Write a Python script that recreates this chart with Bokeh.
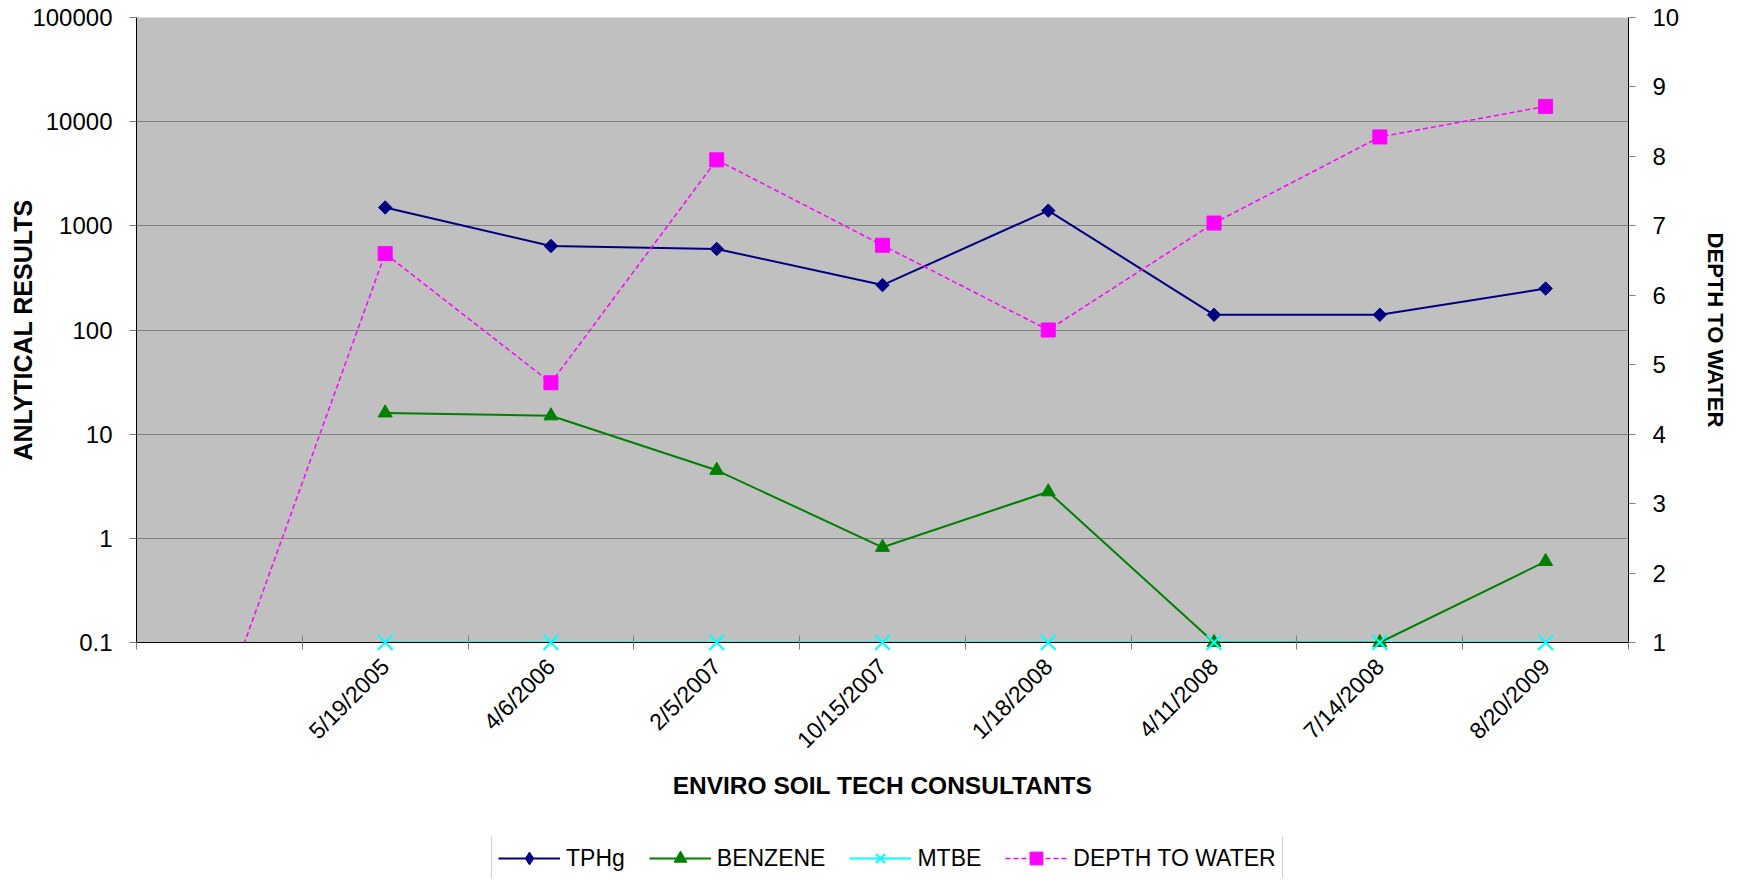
import math
import numpy as np
from bokeh.plotting import figure
from bokeh.layouts import column
from bokeh.models import (Range1d, LinearAxis, LinearScale, FixedTicker, CustomJSTickFormatter,
                          Legend, LegendItem)
from bokeh.embed import file_html
from bokeh.resources import INLINE

# ---- data ----
dates = ["", "5/19/2005", "4/6/2006", "2/5/2007", "10/15/2007", "1/18/2008",
         "4/11/2008", "7/14/2008", "8/20/2009"]
tphg = [np.nan, 1500, 640, 600, 270, 1400, 140, 140, 250]
benzene = [np.nan, 16, 15, 4.5, 0.82, 2.8, 0.1, 0.1, 0.6]
mtbe = [np.nan, 0.1, 0.1, 0.1, 0.1, 0.1, 0.1, 0.1, 0.1]
depth = [0, 6.6, 4.74, 7.95, 6.72, 5.5, 7.04, 8.28, 8.72]
left_ticks = [0.1, 1, 10, 100, 1000, 10000, 100000]
right_ticks = [1, 2, 3, 4, 5, 6, 7, 8, 9, 10]
series_names = ["TPHg", "BENZENE", "MTBE", "DEPTH TO WATER"]

x = [i + 0.5 for i in range(len(dates))]
bounds = [float(i) for i in range(len(dates) + 1)]

FONT = "Liberation Sans"
W, H1, H2 = 1736, 836, 42

p = figure(width=W, height=H1,
           x_range=Range1d(0, len(dates)), y_range=Range1d(left_ticks[0], left_ticks[-1]),
           y_axis_type="log", output_backend="svg", toolbar_location=None,
           min_border_left=136, min_border_right=W - 1628, min_border_top=17,
           min_border_bottom=H1 - 642,
           background_fill_color="#C0C0C0", border_fill_color="white", outline_line_color=None)

# grid
p.xgrid.visible = False
p.ygrid.grid_line_color = "#808080"
p.ygrid.grid_line_width = 1

# left axis
ya = p.left[0]
ya.ticker = FixedTicker(ticks=left_ticks)
ya.formatter = CustomJSTickFormatter(code="return tick.toString();")
ya.axis_label = "ANLYTICAL RESULTS"
ya.axis_label_text_font = FONT
ya.axis_label_text_font_style = "bold"
ya.axis_label_text_font_size = "25px"
ya.axis_label_text_color = "black"
ya.axis_label_standoff = -8
ya.major_label_text_font = FONT
ya.major_label_text_font_size = "24px"
ya.major_label_text_color = "black"
ya.major_label_standoff = 17
ya.major_tick_in = 0
ya.major_tick_out = 7
ya.major_tick_line_color = "#808080"
ya.minor_tick_line_color = None
ya.axis_line_color = "black"

# bottom axis
xa = p.below[0]
xa.ticker = FixedTicker(ticks=x, minor_ticks=bounds)
xa.major_label_overrides = {xi: d for xi, d in zip(x, dates)}
xa.major_label_orientation = math.pi / 4
xa.major_label_text_font = FONT
xa.major_label_text_font_size = "23px"
xa.major_label_text_color = "black"
xa.major_label_standoff = 13
xa.major_tick_in = 0
xa.major_tick_out = 0
xa.minor_tick_in = 7
xa.minor_tick_out = 7
xa.minor_tick_line_color = "#808080"
xa.axis_line_color = "black"
xa.axis_label = "ENVIRO SOIL TECH CONSULTANTS"
xa.axis_label_text_font = FONT
xa.axis_label_text_font_style = "bold"
xa.axis_label_text_font_size = "24.5px"
xa.axis_label_text_color = "black"
xa.axis_label_standoff = 7

# right axis (linear)
p.extra_y_ranges = {"depth": Range1d(right_ticks[0], right_ticks[-1])}
p.extra_y_scales = {"depth": LinearScale()}
ra = LinearAxis(y_range_name="depth", ticker=FixedTicker(ticks=right_ticks))
ra.axis_label = "DEPTH TO WATER"
ra.axis_label_text_font = FONT
ra.axis_label_text_font_style = "bold"
ra.axis_label_text_font_size = "22px"
ra.axis_label_text_color = "black"
ra.axis_label_standoff = 21
ra.major_label_text_font = FONT
ra.major_label_text_font_size = "24px"
ra.major_label_text_color = "black"
ra.major_label_standoff = 17
ra.major_tick_in = 0
ra.major_tick_out = 7
ra.major_tick_line_color = "#808080"
ra.minor_tick_line_color = None
ra.axis_line_color = "black"
if "axis_label_orientation" in LinearAxis.properties():
    ra.axis_label_orientation = "vertical"
p.add_layout(ra, "right")

# styles
STY = [
    dict(color="#000080", marker="square", angle=math.pi / 4, size=9.5, dash="solid", lw=2),
    dict(color="#008000", marker="triangle", angle=0, size=14, dash="solid", lw=2),
    dict(color="#00FFFF", marker="x", angle=0, size=21, dash="solid", lw=2),
    dict(color="#FF00FF", marker="square", angle=0, size=14, dash="5 3", lw=1.5),
]
values = [tphg, benzene, mtbe, depth]
ranges = ["default", "default", "default", "depth"]
levels = ["overlay", "overlay", "overlay", "glyph"]


def draw(fig, xs, ys, st, rname, level, marker=None):
    ln = fig.line(xs, ys, line_color=st["color"], line_width=st["lw"],
                  line_dash=st["dash"], y_range_name=rname)
    sc = fig.scatter(xs, ys, marker=marker or st["marker"], angle=st["angle"], size=st["size"],
                     fill_color=st["color"], line_color=st["color"],
                     line_width=2 if st["marker"] == "x" else 1, y_range_name=rname,
                     level=level)
    return ln, sc


for ys, st, rn, lv in zip(values, STY, ranges, levels):
    draw(p, x, ys, st, rn, lv)

# legend strip (separate figure below; same series, kept outside its visible range)
q = figure(width=W, height=H2, x_range=Range1d(-20, -10), y_range=Range1d(-20, -10),
           output_backend="svg", toolbar_location=None,
           x_axis_location=None, y_axis_location=None, min_border=0,
           background_fill_color="white", border_fill_color="white", outline_line_color=None)
q.xgrid.visible = False
q.ygrid.visible = False
legend_markers = ["diamond", None, None, None]
items = []
for name, ys, st, mk in zip(series_names, values, STY, legend_markers):
    ln, sc = draw(q, x, ys, st, "default", "glyph", marker=mk)
    items.append(LegendItem(label=name, renderers=[ln, sc]))

legend = Legend(items=items, orientation="horizontal", location=(355, -3),
                glyph_width=62, glyph_height=32, label_standoff=6, spacing=24,
                padding=6, margin=0, border_line_color="#A0A0A0", border_line_width=1,
                label_text_font=FONT, label_text_font_size="23px", label_text_color="black",
                background_fill_color="white", background_fill_alpha=1)
q.add_layout(legend)

layout = column(p, q, spacing=0)
open("out.html", "w").write(file_html(layout, INLINE))
